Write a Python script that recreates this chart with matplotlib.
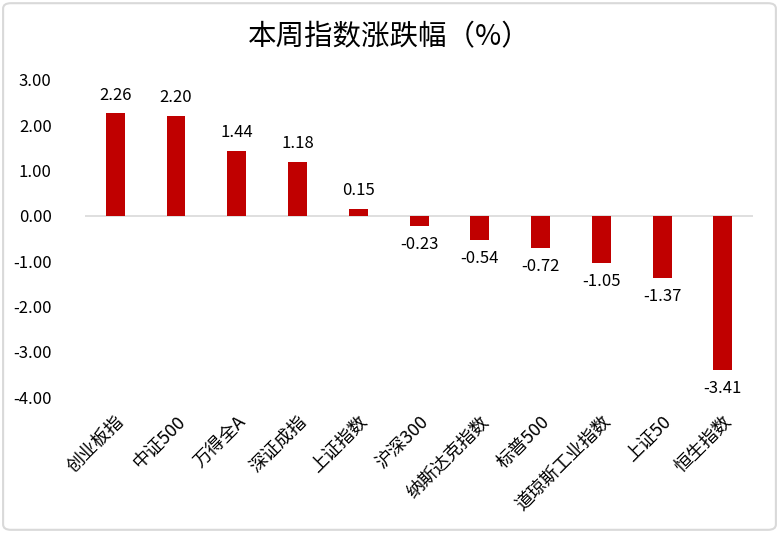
import matplotlib
matplotlib.use("Agg")
from matplotlib import pyplot as plt
from matplotlib.patches import FancyBboxPatch
import numpy as np

plt.rcParams['font.family'] = ['Noto Sans CJK SC', 'DejaVu Sans']
plt.rcParams['axes.unicode_minus'] = False

# Data
names = ['创业板指', '中证500', '万得全A', '深证成指', '上证指数', '沪深300',
         '纳斯达克指数', '标普500', '道琼斯工业指数', '上证50', '恒生指数']
changes = [2.26, 2.20, 1.44, 1.18, 0.15, -0.23, -0.54, -0.72, -1.05, -1.37, -3.41]
y_ticks = [3, 2, 1, 0, -1, -2, -3, -4]

fig = plt.figure(figsize=(7.79, 5.33), dpi=100)
ax = fig.add_axes([0.109, 0.255, 0.858, 0.595])

x = np.arange(len(names))
ax.bar(x, changes, width=0.31, color='#C00000')

# value labels above / below each bar
for xi, v in zip(x, changes):
    if v >= 0:
        ax.text(xi, v + 0.22, f'{v:.2f}', ha='center', va='bottom', fontsize=12)
    else:
        ax.text(xi, v - 0.22, f'{v:.2f}', ha='center', va='top', fontsize=12)

ax.set_xlim(-0.5, len(names) - 0.5)
ax.set_ylim(-4, 3)
ax.set_yticks(y_ticks)
ax.set_yticklabels([f'{t:.2f}' for t in y_ticks], fontsize=12)
ax.axhline(0, color='#D9D9D9', lw=1.2, zorder=0)

for s in ax.spines.values():
    s.set_visible(False)
ax.tick_params(axis='both', length=0)
ax.tick_params(axis='y', pad=24)
ax.set_xticks(x)
ax.set_xticklabels(names, rotation=45, ha='right', rotation_mode='anchor', fontsize=13)
ax.tick_params(axis='x', pad=11)

fig.text(0.5, 0.93, '本周指数涨跌幅（%）', ha='center', va='center', fontsize=20.5)

# outer border
border = FancyBboxPatch((0.004, 0.006), 0.992, 0.988, boxstyle='round,pad=0,rounding_size=0.01',
                        transform=fig.transFigure, fill=False, edgecolor='#D9D9D9', lw=1.5)
fig.patches.append(border)

fig.savefig('out.png', dpi=100)
